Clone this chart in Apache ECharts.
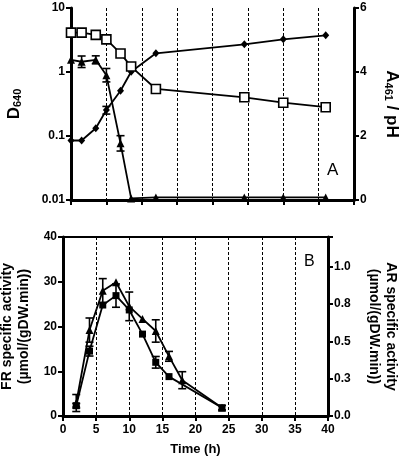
<!DOCTYPE html>
<html><head><meta charset="utf-8">
<script src="https://cdn.jsdelivr.net/npm/echarts@6/dist/echarts.min.js"></script>
<style>html,body{margin:0;padding:0;background:#fff}#c{width:400px;height:461px}</style>
</head><body><div id="c"></div>
<script>
// ---- Panel A data ----
const timeA = [0, 1.5, 3.5, 5, 7, 8.5, 12, 24.5, 30, 36];
const d640 = [0.085, 0.085, 0.132, 0.255, 0.51, 1.01, 1.96, 2.71, 3.24, 3.74];
const d640Err = [0, 0, 0, 0.035, 0, 0, 0, 0, 0, 0];
const pH = [5.23, 5.23, 5.16, 5.02, 4.58, 4.17, 3.47, 3.21, 3.04, 2.90];
const a461 = [4.38, 4.32, 4.38, 3.9, 1.77, 0.05, 0.08, 0.08, 0.08, 0.08];
const a461Err = [0, 0.18, 0.125, 0.21, 0.24, 0, 0, 0, 0, 0];
const logTicks = ['0.01', '0.1', '1', '10'];
// ---- Panel B data ----
const timeFR = [2, 4, 6, 8, 10, 12, 14, 16, 24];
const frAct = [2.3, 14.5, 24.8, 26.9, 23.7, 18.3, 12.0, 8.8, 1.85];
const frErr = [0.5, 1.1, 0, 2.6, 0, 0, 1.3, 0, 0.5];
const timeAR = [2, 4, 6, 8, 10, 12, 14, 16, 18, 24];
const arAct = [0.087, 0.576, 0.84, 0.897, 0.735, 0.651, 0.57, 0.40, 0.24, 0.056];
const arErr = [0.057, 0.081, 0.081, 0, 0.096, 0, 0.075, 0.033, 0.057, 0];

const FONT = '"Liberation Sans", Arial, sans-serif';
const zip = (xs, ys) => xs.map((x, i) => [x, ys[i]]);
const zip3 = (xs, ys, es) => xs.map((x, i) => [x, ys[i], es[i]]).filter(d => d[2] > 0);

function errSeries(data, xi, yi) {
  return {
    type: 'custom', xAxisIndex: xi, yAxisIndex: yi, z: 1, silent: true,
    data: data,
    renderItem: function (params, api) {
      const x = api.value(0), y = api.value(1), e = api.value(2);
      const lo = api.coord([x, y - e]), hi = api.coord([x, y + e]);
      const w = 4;
      const st = { stroke: '#000', lineWidth: 1.6 };
      return { type: 'group', children: [
        { type: 'line', shape: { x1: lo[0], y1: lo[1], x2: hi[0], y2: hi[1] }, style: st },
        { type: 'line', shape: { x1: lo[0] - w, y1: lo[1], x2: lo[0] + w, y2: lo[1] }, style: st },
        { type: 'line', shape: { x1: hi[0] - w, y1: hi[1], x2: hi[0] + w, y2: hi[1] }, style: st }
      ]};
    }
  };
}

const axisLineThick = { show: true, lineStyle: { color: '#000', width: 3 } };
const tickOut = { show: true, length: 5, lineStyle: { color: '#000', width: 2 } };
const lblStyle = { color: '#000', fontFamily: FONT, fontWeight: 'bold', fontSize: 12 };
const dashed = { show: true, lineStyle: { color: '#000', width: 1, type: [3, 2] } };

const lineBase = { type: 'line', lineStyle: { color: '#000', width: 1.8 }, itemStyle: { color: '#000' }, z: 3, animation: false };

const option = {
  animation: false,
  backgroundColor: '#fff',
  grid: [
    { left: 71, right: 46, top: 8, bottom: 261, containLabel: false, outerBoundsMode: 'none' },
    { left: 63, right: 72, top: 237, bottom: 45, containLabel: false, outerBoundsMode: 'none',
      show: true, borderColor: '#000', borderWidth: 2 }
  ],
  xAxis: [
    { gridIndex: 0, type: 'value', min: 0, max: 40, interval: 5,
      axisLine: axisLineThick, axisTick: tickOut, axisLabel: { show: false }, splitLine: dashed },
    { gridIndex: 1, type: 'value', min: 0, max: 40, interval: 5,
      axisLine: axisLineThick, axisTick: tickOut, axisLabel: Object.assign({ margin: 8 }, lblStyle), splitLine: dashed,
      name: 'Time (h)', nameLocation: 'middle', nameGap: 27,
      nameTextStyle: { color: '#000', fontFamily: FONT, fontWeight: 'bold', fontSize: 13 } }
  ],
  yAxis: [
    { gridIndex: 0, type: 'log', logBase: 10, min: 0.01, max: 10, position: 'left',
      axisLine: axisLineThick, axisTick: tickOut, splitLine: { show: false }, minorTick: { show: false },
      axisLabel: Object.assign({ margin: 6, formatter: v => logTicks[Math.round(Math.log10(v)) + 2] }, lblStyle),
      name: '{m|D}{s|640}', nameLocation: 'middle', nameGap: 48,
      nameTextStyle: { rich: {
        m: { fontFamily: FONT, fontWeight: 'bold', fontSize: 17, color: '#000' },
        s: { fontFamily: FONT, fontWeight: 'bold', fontSize: 11, color: '#000', padding: [7, 0, 0, 0] } } } },
    { gridIndex: 0, type: 'value', min: 0, max: 6, interval: 2, position: 'right',
      axisLine: axisLineThick, axisTick: tickOut, splitLine: { show: false },
      axisLabel: Object.assign({ margin: 6 }, lblStyle),
      name: '{m|A}{s|461}{m| / pH}', nameLocation: 'middle', nameGap: 29, nameRotate: -90,
      nameTextStyle: { rich: {
        m: { fontFamily: FONT, fontWeight: 'bold', fontSize: 17, color: '#000' },
        s: { fontFamily: FONT, fontWeight: 'bold', fontSize: 11, color: '#000', padding: [7, 0, 0, 0] } } } },
    { gridIndex: 1, type: 'value', min: 0, max: 40, interval: 10, position: 'left',
      axisLine: axisLineThick, axisTick: tickOut, splitLine: { show: false },
      axisLabel: Object.assign({ margin: 6 }, lblStyle),
      name: 'FR specific activity\n(\u00b5mol/(gDW.min))', nameLocation: 'middle', nameGap: 26,
      nameTextStyle: { color: '#000', fontFamily: FONT, fontWeight: 'bold', fontSize: 14, lineHeight: 17 } },
    { gridIndex: 1, type: 'value', min: 0, max: 1.2, interval: 0.25, position: 'right',
      axisLine: axisLineThick, axisTick: tickOut, splitLine: { show: false },
      axisLabel: Object.assign({ margin: 6, formatter: v => v > 1.1 ? '' : v.toFixed(1) }, lblStyle),
      name: 'AR specific activity\n(\u00b5mol/(gDW.min))', nameLocation: 'middle', nameGap: 37, nameRotate: -90,
      nameTextStyle: { color: '#000', fontFamily: FONT, fontWeight: 'bold', fontSize: 14, lineHeight: 17 } }
  ],
  series: [
    errSeries(zip3(timeA, d640, d640Err), 0, 0),
    errSeries(zip3(timeA, a461, a461Err), 0, 1),
    Object.assign({}, lineBase, { name: 'D640', xAxisIndex: 0, yAxisIndex: 0, data: zip(timeA, d640),
      symbol: 'diamond', symbolSize: [7, 8] }),
    Object.assign({}, lineBase, { name: 'pH', xAxisIndex: 0, yAxisIndex: 1, data: zip(timeA, pH),
      symbol: 'rect', symbolSize: 9, itemStyle: { color: '#fff', borderColor: '#000', borderWidth: 1.6 } }),
    Object.assign({}, lineBase, { name: 'A461', xAxisIndex: 0, yAxisIndex: 1, data: zip(timeA, a461),
      symbol: 'triangle', symbolSize: 8 }),
    errSeries(zip3(timeFR, frAct, frErr), 1, 2),
    errSeries(zip3(timeAR, arAct, arErr), 1, 3),
    Object.assign({}, lineBase, { name: 'FR', xAxisIndex: 1, yAxisIndex: 2, data: zip(timeFR, frAct),
      symbol: 'rect', symbolSize: 7 }),
    Object.assign({}, lineBase, { name: 'AR', xAxisIndex: 1, yAxisIndex: 3, data: zip(timeAR, arAct),
      symbol: 'triangle', symbolSize: 8 })
  ],
  graphic: [
    { type: 'text', left: 327, top: 162, style: { text: 'A', font: '17px ' + FONT, fill: '#000' } },
    { type: 'text', left: 304, top: 254, style: { text: 'B', font: '16px ' + FONT, fill: '#000' } }
  ]
};
const chart = echarts.init(document.getElementById('c'), null, { renderer: 'canvas' });
chart.setOption(option);
</script></body></html>
